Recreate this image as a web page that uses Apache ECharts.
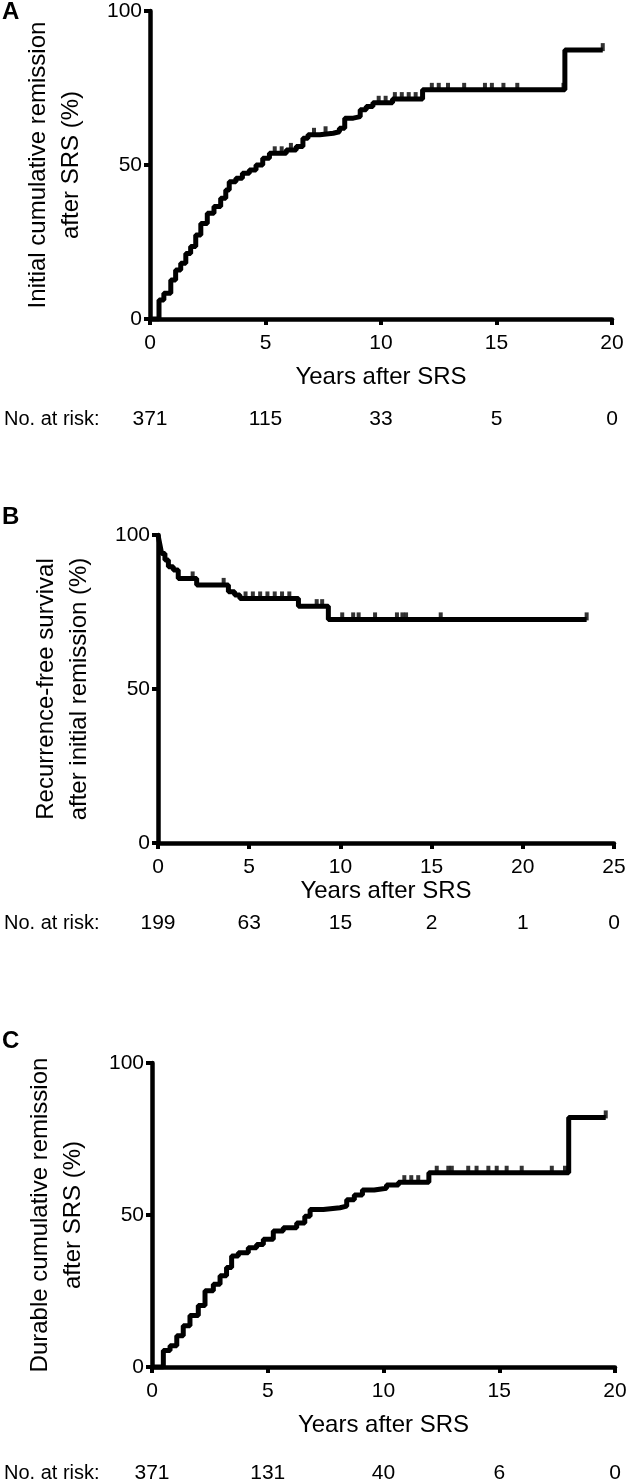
<!DOCTYPE html>
<html>
<head>
<meta charset="utf-8">
<script src="https://cdn.jsdelivr.net/npm/echarts@6/dist/echarts.min.js"></script>
<style>
html,body{margin:0;padding:0;background:#fff;}
#c{width:630px;height:1484px;}
</style>
</head>
<body>
<div id="c"></div>
<script>
// ---- Panel A: initial cumulative remission (years, %)
const aTimes  = [0, 0.39, 0.6, 0.9, 1.11, 1.33, 1.55, 1.76, 1.98, 2.2, 2.48, 2.77, 3.06, 3.28, 3.43, 3.72, 4.0, 4.3, 4.59, 4.88, 5.17, 5.9, 6.33, 6.62, 6.84, 7.35, 7.93, 8.2, 8.43, 8.8, 9.1, 9.36, 9.65, 10.5, 11.8, 17.96, 19.6];
const aValues = [0, 6.2, 8.4, 12.7, 15.9, 18.1, 21.3, 23.5, 27.3, 31, 34.3, 36.5, 39.2, 41.9, 44.6, 45.7, 47.3, 48.4, 50, 52.2, 53.8, 54.9, 56, 58.7, 59.8, 60.3, 60.8, 61.9, 65.2, 65.7, 67.9, 69, 70.2, 71.4, 74.4, 87.3, 87.3];
const aCensor = [5.4, 5.7, 6.1, 7.1, 7.6, 9.9, 10.2, 10.6, 10.9, 11.2, 11.5, 12.2, 12.5, 12.9, 13.6, 14.5, 14.8, 15.3, 15.9, 17.9, 19.6];
const aRisk   = ['371', '115', '33', '5', '0'];

// ---- Panel B: recurrence-free survival (years, %)
const bTimes  = [0, 0.1, 0.2, 0.38, 0.57, 0.84, 1.11, 2.12, 3.86, 4.2, 4.49, 7.7, 9.34, 23.5];
const bValues = [100, 97, 94, 91.9, 89.7, 88.6, 85.9, 83.8, 81.6, 80.5, 79.4, 76.9, 72.6, 72.6];
const bCensor = [1.9, 3.6, 4.8, 5.2, 5.6, 6.0, 6.4, 6.8, 7.2, 8.7, 9.0, 10.1, 10.7, 11.0, 11.9, 13.1, 13.4, 13.6, 15.5, 23.5];
const bRisk   = ['199', '63', '15', '2', '1', '0'];

// ---- Panel C: durable cumulative remission (years, %)
const cTimes  = [0, 0.49, 0.78, 1.07, 1.35, 1.64, 2.0, 2.29, 2.65, 2.94, 3.22, 3.44, 3.73, 4.16, 4.52, 4.81, 5.24, 5.67, 6.25, 6.6, 6.83, 7.4, 8.12, 8.41, 8.74, 9.09, 9.6, 10.13, 10.65, 11.96, 18.0, 19.6];
const cValues = [0, 5.4, 7, 10.3, 13.6, 16.9, 20.2, 25.1, 27.2, 30, 32.7, 36.5, 37.6, 39.2, 40.3, 42, 44.7, 45.8, 47.4, 49.6, 51.8, 52.4, 52.9, 55, 56.6, 58.2, 58.8, 59.9, 60.8, 63.9, 82.1, 82.1];
const cCensor = [10.9, 11.2, 11.5, 12.3, 12.8, 12.95, 13.66, 14.02, 14.53, 14.89, 15.32, 15.97, 17.27, 17.84, 19.6];
const cRisk   = ['371', '131', '40', '6', '0'];

const yTitles = ['Initial cumulative remission\nafter SRS (%)',
                 'Recurrence-free survival\nafter initial remission (%)',
                 'Durable cumulative remission\nafter SRS (%)'];
const xTitle = 'Years after SRS';
const riskLabel = 'No. at risk:';
const panelLetters = ['A', 'B', 'C'];

// ---------------------------------------------------------------
const FONT = "'Liberation Sans', Arial, Helvetica, sans-serif";
function valAt(ts, vs, t) {
  let v = vs[0];
  for (let i = 0; i < ts.length; i++) { if (ts[i] <= t + 1e-9) v = vs[i]; }
  return v;
}
const panels = [
  {t: aTimes, v: aValues, c: aCensor, risk: aRisk, max: 20, riskOffset: 82, nameGap: 46},
  {t: bTimes, v: bValues, c: bCensor, risk: bRisk, max: 25, riskOffset: 62, nameGap: 36},
  {t: cTimes, v: cValues, c: cCensor, risk: cRisk, max: 20, riskOffset: 88, nameGap: 46}
];
const grids = [
  {left: 150, top: 11, width: 462, height: 308},
  {left: 158, top: 535, width: 456, height: 308},
  {left: 152, top: 1063, width: 463, height: 305}
];

const xAxes = [], yAxes = [], series = [];
panels.forEach((p, i) => {
  xAxes.push({
    type: 'value', gridIndex: i, min: 0, max: p.max, interval: 5,
    axisLine: {show: true, onZero: false, lineStyle: {color: '#000', width: 4.5}},
    axisTick: {show: true, length: 6, lineStyle: {color: '#000', width: 4}},
    axisLabel: {color: '#000', fontSize: 21, fontFamily: FONT, margin: 14},
    splitLine: {show: false},
    name: xTitle, nameLocation: 'middle', nameGap: p.nameGap,
    nameTextStyle: {color: '#000', fontSize: 24, fontFamily: FONT}
  });
  yAxes.push({
    type: 'value', gridIndex: i, min: 0, max: 100, interval: 50,
    axisLine: {show: true, onZero: false, lineStyle: {color: '#000', width: 4.5}},
    axisTick: {show: true, length: 6, lineStyle: {color: '#000', width: 4}},
    axisLabel: {color: '#000', fontSize: 21, fontFamily: FONT, margin: 8},
    splitLine: {show: false},
    name: yTitles[i], nameLocation: 'middle', nameRotate: 90, nameGap: 62,
    nameTextStyle: {color: '#000', fontSize: 24, lineHeight: 33, fontFamily: FONT, align: 'center'}
  });
  series.push({
    type: 'line', xAxisIndex: i, yAxisIndex: i, step: 'end', symbol: 'none',
    data: p.t.map((t, k) => [t, p.v[k]]),
    lineStyle: {color: '#000', width: 5}, z: 3
  });
  series.push({
    type: 'scatter', xAxisIndex: i, yAxisIndex: i, symbol: 'rect',
    symbolSize: [4, 8], symbolOffset: [0, -3],
    data: p.c.map(t => [t, valAt(p.t, p.v, t)]),
    itemStyle: {color: '#000'}, z: 4
  });
});
// risk-table axes
panels.forEach((p, i) => {
  xAxes.push({
    type: 'value', gridIndex: i, min: 0, max: p.max, interval: 5,
    position: 'bottom', offset: p.riskOffset,
    axisLine: {show: false}, axisTick: {show: false}, splitLine: {show: false},
    axisLabel: {color: '#000', fontSize: 21, fontFamily: FONT, margin: 8,
      formatter: v => p.risk[Math.round(v / 5)] || ''}
  });
});

const chart = echarts.init(document.getElementById('c'), null, {renderer: 'canvas'});
chart.setOption({
  animation: false,
  backgroundColor: '#fff',
  grid: grids,
  xAxis: xAxes,
  yAxis: yAxes,
  series: series
});

// "No. at risk:" row labels and panel letters, positioned from the axes
const graphics = [];
panels.forEach((p, i) => {
  const axisY = chart.convertToPixel({gridIndex: i}, [0, 0])[1];
  graphics.push({type: 'text', left: 4, top: axisY + p.riskOffset + 8,
    style: {text: riskLabel, fill: '#000', font: '20px ' + FONT}});
  const topY = chart.convertToPixel({gridIndex: i}, [0, 100])[1];
  graphics.push({type: 'text', left: 2, top: topY - [11, 30, 34][i],
    style: {text: panelLetters[i], fill: '#000', font: 'bold 24px ' + FONT}});
});
chart.setOption({graphic: graphics});
</script>
</body>
</html>
